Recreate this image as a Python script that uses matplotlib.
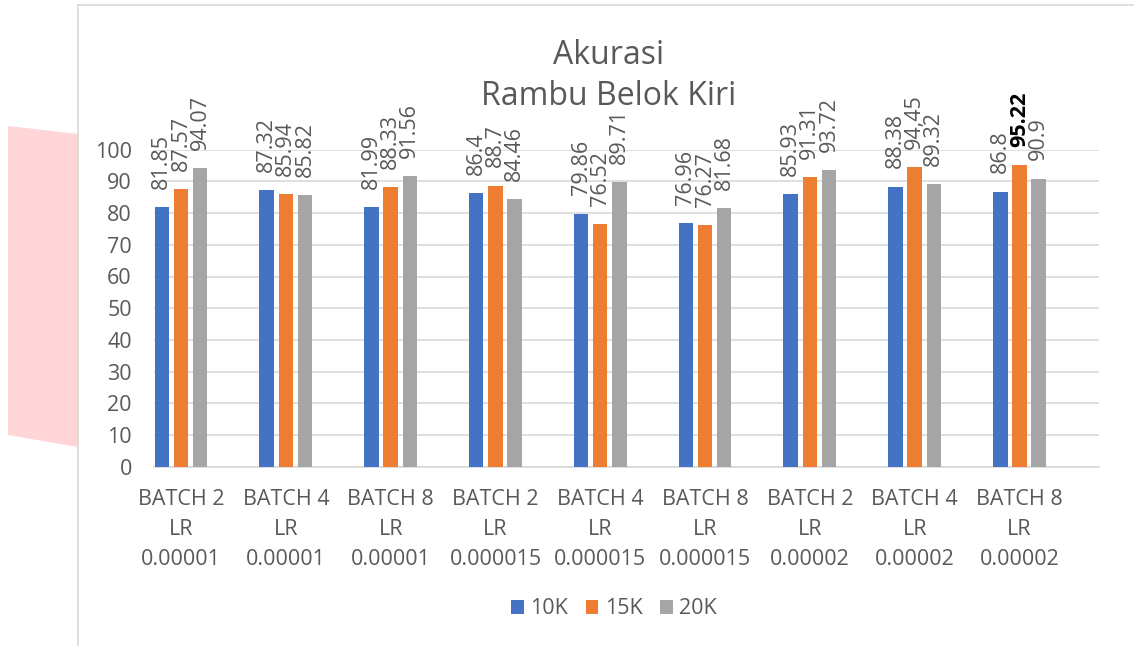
import numpy as np
import matplotlib.pyplot as plt
from matplotlib.patches import Polygon
from matplotlib.lines import Line2D

plt.rcParams['font.family'] = ['Open Sans', 'DejaVu Sans']

categories = ["BATCH 2\nLR\n0.00001", "BATCH 4\nLR\n0.00001", "BATCH 8\nLR\n0.00001",
              "BATCH 2\nLR\n0.000015", "BATCH 4\nLR\n0.000015", "BATCH 8\nLR\n0.000015",
              "BATCH 2\nLR\n0.00002", "BATCH 4\nLR\n0.00002", "BATCH 8\nLR\n0.00002"]
series_names = ["10K", "15K", "20K"]
acc_10k = [81.85, 87.32, 81.99, 86.4, 79.86, 76.96, 85.93, 88.38, 86.8]
acc_15k = [87.57, 85.94, 88.33, 88.7, 76.52, 76.27, 91.31, 94.45, 95.22]
acc_20k = [94.07, 85.82, 91.56, 84.46, 89.71, 81.68, 93.72, 89.32, 90.9]
# data label texts as shown in the chart (one uses a comma)
labels_10k = ["81.85", "87.32", "81.99", "86.4", "79.86", "76.96", "85.93", "88.38", "86.8"]
labels_15k = ["87.57", "85.94", "88.33", "88.7", "76.52", "76.27", "91.31", "94,45", "95.22"]
labels_20k = ["94.07", "85.82", "91.56", "84.46", "89.71", "81.68", "93.72", "89.32", "90.9"]

colors = ["#4472C4", "#ED7D31", "#A5A5A5"]
text_gray = "#595959"
grid_gray = "#D9D9D9"

W, H = 1134, 646
fig = plt.figure(figsize=(W / 100, H / 100), dpi=100)

# pink shape peeking in on the left and the chart border lines
fig.patches.append(Polygon([(8 / W, 1 - 126 / H), (78 / W, 1 - 134 / H),
                            (78 / W, 1 - 447 / H), (8 / W, 1 - 435 / H)],
                           closed=True, transform=fig.transFigure,
                           facecolor="#FFD5D8", edgecolor="none"))
fig.lines.append(Line2D([78 / W, 78 / W], [0, 1 - 5 / H], transform=fig.transFigure,
                        color=grid_gray, lw=1.2))
fig.lines.append(Line2D([78 / W, 1], [1 - 5 / H, 1 - 5 / H], transform=fig.transFigure,
                        color=grid_gray, lw=1.2))

ax = fig.add_axes([154 / W, 1 - 466.7 / H, (1099 - 154) / W, (466.7 - 149.7) / H])

x = np.arange(len(categories))
bar_w = 0.138
step = 0.183
all_vals = [acc_10k, acc_15k, acc_20k]
all_labels = [labels_10k, labels_15k, labels_20k]

for i, (vals, labs) in enumerate(zip(all_vals, all_labels)):
    pos = x + (i - 1) * step
    ax.bar(pos, vals, width=bar_w, color=colors[i], label=series_names[i], zorder=3)
    for p, v, t in zip(pos, vals, labs):
        bold = (t == "95.22")
        ax.annotate(t, (p, v), xytext=(0, 13), textcoords="offset points",
                    rotation=90, ha="center", va="bottom", fontsize=15.5,
                    color="black" if bold else text_gray,
                    fontweight="bold" if bold else "normal")

ax.set_ylim(0, 100)
# plot area is not centred on the groups: more room on the right
ax.set_xlim(-0.258, len(categories) - 1 + 0.759)
ax.set_yticks(np.arange(0, 101, 10))
ax.yaxis.grid(True, color=grid_gray, lw=1.2, zorder=0)
ax.set_axisbelow(True)
for s in ["top", "right", "left"]:
    ax.spines[s].set_visible(False)
ax.spines["bottom"].set_color(grid_gray)
ax.spines["bottom"].set_linewidth(1.2)
ax.set_xticks(x)
ax.set_xticklabels(categories, linespacing=1.57)
ax.tick_params(axis="both", length=0, labelsize=15.5, labelcolor=text_gray)
ax.tick_params(axis="x", pad=16)
ax.tick_params(axis="y", pad=16)

# title, two lines
fig.text(609 / W, 1 - 76 / H, "Akurasi\nRambu Belok Kiri", ha="center", va="center",
         fontsize=23, color=text_gray, linespacing=1.3)

fig.legend(loc="center", bbox_to_anchor=(614 / W, 1 - 609 / H), ncol=3, frameon=False,
           fontsize=15.5, labelcolor=text_gray, handlelength=0.6, handleheight=0.6,
           handletextpad=0.3, columnspacing=0.8)

fig.savefig("out.png", dpi=100)
